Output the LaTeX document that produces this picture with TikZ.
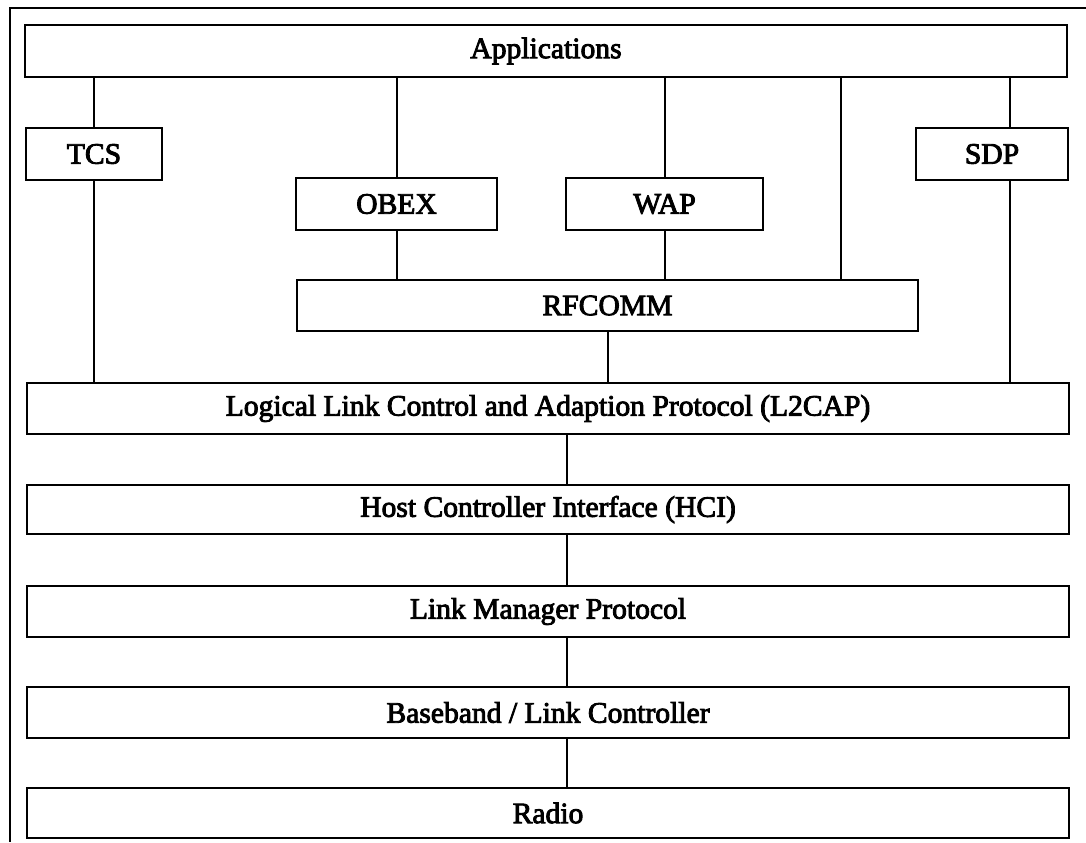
\documentclass[tikz,border=0pt]{standalone}
\usepackage{fontspec}
\newfontfamily\lblfont{Liberation Serif}[FakeBold=3]

\tikzset{
	layer/.style={draw, line width=1.4pt, inner sep=0pt, font=\lblfont\fontsize{14.8}{17}\selectfont},
	link/.style={line width=1pt}
}

\begin{document}
\begin{tikzpicture}[x=0.5pt, y=-0.5pt]
	\useasboundingbox (0,0) rectangle (1086,842);
	% outer frame
	\draw[line width=1.3pt] (1086,8) -- (10,8) -- (10,842);
	
	% top of the stack
	\node[layer, minimum width=521pt, minimum height=26pt] (apps) at (546,51) {Applications};
	\node[layer, minimum width=68pt, minimum height=26pt] (tcs) at (94,154) {TCS};
	\node[layer, minimum width=76pt, minimum height=26pt] (sdp) at (992,154) {SDP};
	\node[layer, minimum width=100.5pt, minimum height=26pt] (obex) at (396.5,204) {OBEX};
	\node[layer, minimum width=98.5pt, minimum height=26pt] (wap) at (664.5,204) {WAP};
	\node[layer, minimum width=310.5pt, minimum height=25.5pt] (rfcomm) at (607.5,305.5) {RFCOMM};
	
	% lower layers
	\node[layer, minimum width=521pt, minimum height=25.5pt] (l2cap) at (548,408.5) {Logical Link Control and Adaption Protocol (L2CAP)};
	\node[layer, minimum width=521pt, minimum height=24.5pt] (hci) at (548,509.5) {Host Controller Interface (HCI)};
	\node[layer, minimum width=521pt, minimum height=25.5pt] (lmp) at (548,611.5) {Link Manager Protocol};
	\node[layer, minimum width=521pt, minimum height=25.5pt] (bb) at (548,712.5) {Baseband / Link Controller};
	\node[layer, minimum width=521pt, minimum height=25pt] (radio) at (548,813) {Radio};
	
	% off-centre drop points
	\coordinate (sdpx) at (1010,0);
	\coordinate (rfx) at (841,0);
	\coordinate (stack) at (567,0);
	
	% links from the applications
	\draw[link] (tcs.north) -- (tcs.north |- apps.south);
	\draw[link] (tcs.south) -- (tcs.south |- l2cap.north);
	\draw[link] (sdpx |- apps.south) -- (sdpx |- sdp.north);
	\draw[link] (sdpx |- sdp.south) -- (sdpx |- l2cap.north);
	\foreach \p in {obex, wap}
	{
		\draw[link] (\p.north) -- (\p.north |- apps.south);
		\draw[link] (\p.south) -- (\p.south |- rfcomm.north);
	}
	\draw[link] (rfx |- apps.south) -- (rfx |- rfcomm.north);
	\draw[link] (rfcomm.south) -- (rfcomm.south |- l2cap.north);
	
	% down the stack
	\foreach \a/\b in {l2cap/hci, hci/lmp, lmp/bb, bb/radio}
	\draw[link] (stack |- \a.south) -- (stack |- \b.north);
\end{tikzpicture}
\end{document}
